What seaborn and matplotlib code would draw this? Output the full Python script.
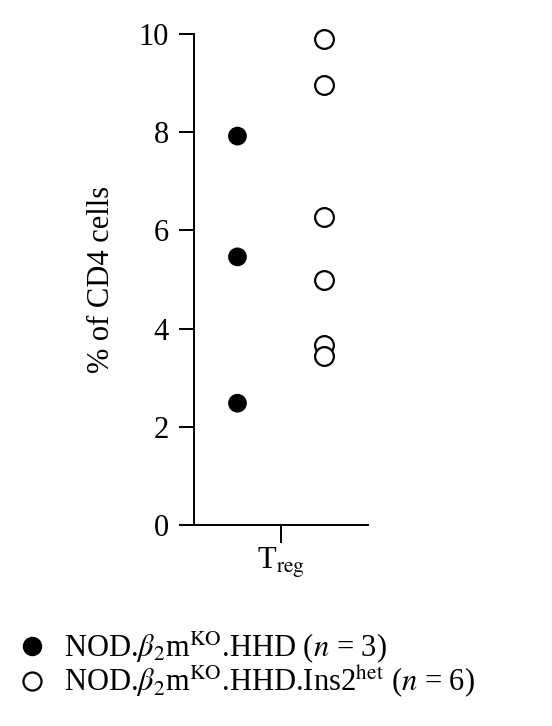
import pandas as pd
import seaborn as sns
import matplotlib.pyplot as plt
from matplotlib.lines import Line2D

# Values
cell_type = r'T$_{\mathrm{reg}}$'
groups = [r'NOD.$\beta_2$m$^{\mathrm{KO}}$.HHD ($n$ = 3)',
          r'NOD.$\beta_2$m$^{\mathrm{KO}}$.HHD.Ins2$^{\mathrm{het}}$ ($n$ = 6)']
ko_values = [7.92, 5.46, 2.48]
ins2_values = [9.90, 8.96, 6.27, 4.99, 3.67, 3.44]

data = pd.DataFrame({
    'cell': [cell_type] * (len(ko_values) + len(ins2_values)),
    'group': [groups[0]] * len(ko_values) + [groups[1]] * len(ins2_values),
    'pct': ko_values + ins2_values,
})

sns.set_theme(style='ticks')
plt.rcParams['font.family'] = ['Liberation Serif', 'DejaVu Serif']
plt.rcParams['mathtext.fontset'] = 'stix'
plt.rcParams['text.color'] = 'black'
plt.rcParams['axes.labelcolor'] = 'black'
plt.rcParams['xtick.color'] = 'black'
plt.rcParams['ytick.color'] = 'black'

fig = plt.figure(figsize=(5.52, 7.26), dpi=100)
ax = fig.add_axes([0.3514, 0.2769, 0.3152, 0.6763])

sns.stripplot(data=data, x='cell', y='pct', hue='group', hue_order=groups,
              palette={groups[0]: 'black', groups[1]: 'black'},
              dodge=True, jitter=False, size=13.5, linewidth=0,
              legend=False, ax=ax, clip_on=False, zorder=3)

# second group drawn as open circles
for coll in ax.collections:
    offs = coll.get_offsets()
    if len(offs) and offs[:, 0].mean() > 0:
        coll.set_facecolor('white')
        coll.set_edgecolor('black')
        coll.set_linewidth(1.6)

ax.set_xlim(-0.4, 0.4)
ax.set_ylim(0, 10)
ax.set_yticks([0, 2, 4, 6, 8, 10])
ax.set_xlabel('')
ax.set_ylabel('% of CD4 cells', fontsize=22, labelpad=16)
sns.despine(ax=ax)
for s in ['left', 'bottom']:
    ax.spines[s].set_linewidth(1.4)
    ax.spines[s].set_color('black')
ax.tick_params(axis='y', length=11, width=1.4, labelsize=22, pad=7)
ax.tick_params(axis='x', length=13, width=1.4, labelsize=22, pad=2)

# legend below the plot
handles = [Line2D([], [], marker='o', ls='', markersize=13, color='black'),
           Line2D([], [], marker='o', ls='', markersize=13, markerfacecolor='white',
                  markeredgecolor='black', markeredgewidth=1.6)]
fig.legend(handles, groups, loc='upper left', bbox_to_anchor=(0.008, 0.15),
           frameon=False, fontsize=22, handletextpad=0.55, labelspacing=-0.05,
           handlelength=1.0, borderaxespad=0)

plt.savefig('out.png', dpi=100)
